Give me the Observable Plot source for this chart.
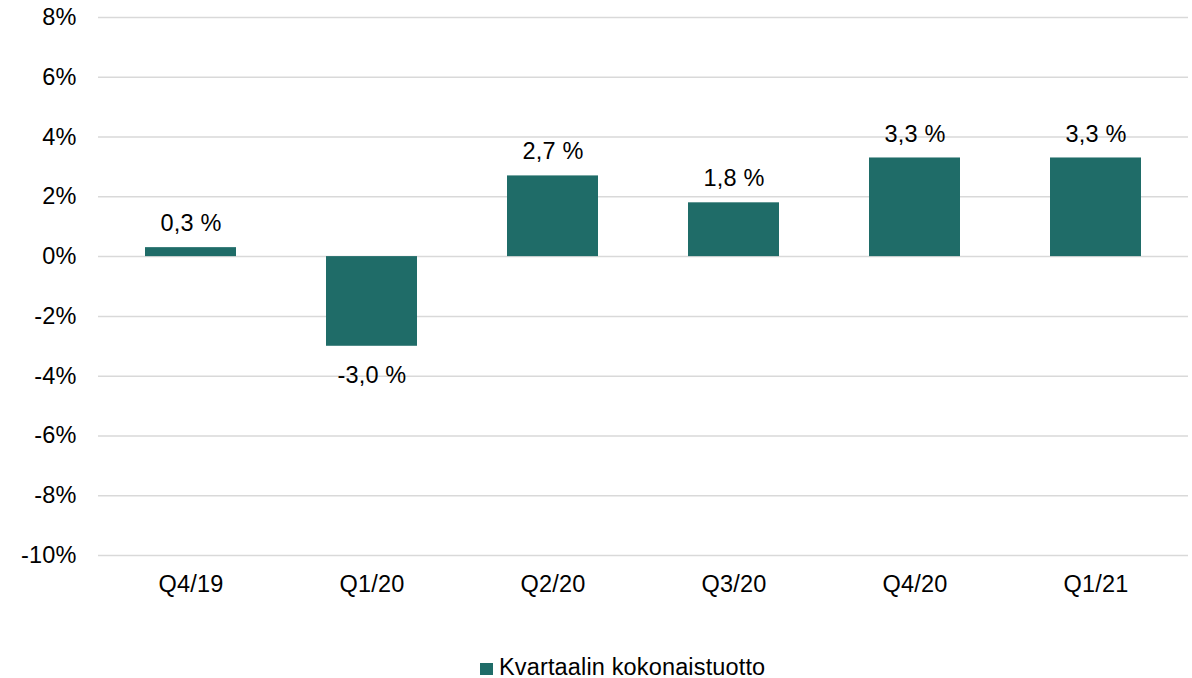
<!DOCTYPE html>
<html>
<head>
<meta charset="utf-8">
<script src="https://cdn.jsdelivr.net/npm/d3@7"></script>
<script src="https://cdn.jsdelivr.net/npm/@observablehq/plot@0.6"></script>
<style>
  html, body { margin: 0; padding: 0; background: #fff; }
  body { width: 1192px; height: 678px; overflow: hidden; font-family: "Liberation Sans", Arial, sans-serif; }
  #legend { position: absolute; left: 480px; top: 654px; white-space: nowrap; font-size: 23.5px; letter-spacing: 0.15px; color: #000; line-height: 26px; }
  #legend .sw { display: inline-block; width: 13px; height: 12px; background: #1f6c68; margin-right: 6px; vertical-align: 0px; }
</style>
</head>
<body>
<div id="chart"></div>
<div id="legend"><span class="sw"></span>Kvartaalin kokonaistuotto</div>
<script>
const quarters = ["Q4/19", "Q1/20", "Q2/20", "Q3/20", "Q4/20", "Q1/21"];
const returns = [0.3, -3.0, 2.7, 1.8, 3.3, 3.3];
const yTicks = [-10, -8, -6, -4, -2, 0, 2, 4, 6, 8];
const seriesName = "Kvartaalin kokonaistuotto";
const barColor = "#1f6c68";

const data = quarters.map((q, i) => ({q, v: returns[i], label: returns[i].toFixed(1).replace(".", ",") + " %"}));

const chart = Plot.plot({
  width: 1192,
  height: 645,
  marginLeft: 98,
  marginRight: 4,
  marginTop: 17,
  marginBottom: 90,
  style: {fontFamily: "'Liberation Sans', Arial, sans-serif", fontSize: "23.5px", letterSpacing: "0.15px", color: "#000", background: "#fff"},
  x: {domain: quarters, paddingInner: 0.5, paddingOuter: 0.25, align: 0.5, label: null},
  y: {domain: [-10, 8], label: null},
  marks: [
    Plot.ruleY(yTicks, {stroke: "#d9d9d9", strokeWidth: 1.5}),
    Plot.barY(data, {x: "q", y: "v", fill: barColor}),
    Plot.text(data.filter(d => d.v >= 0), {x: "q", y: "v", text: "label", dy: -24, fontSize: 23.5, fill: "#000"}),
    Plot.text(data.filter(d => d.v < 0), {x: "q", y: "v", text: "label", dy: 29, fontSize: 23.5, fill: "#000"}),
    Plot.axisX({tickSize: 0, tickPadding: 20, fontSize: 23.5, label: null}),
    Plot.axisY({ticks: yTicks, tickFormat: d => `${d}%`, tickSize: 0, tickPadding: 22, fontSize: 23.5, label: null})
  ]
});
document.getElementById("chart").appendChild(chart);
</script>
</body>
</html>
